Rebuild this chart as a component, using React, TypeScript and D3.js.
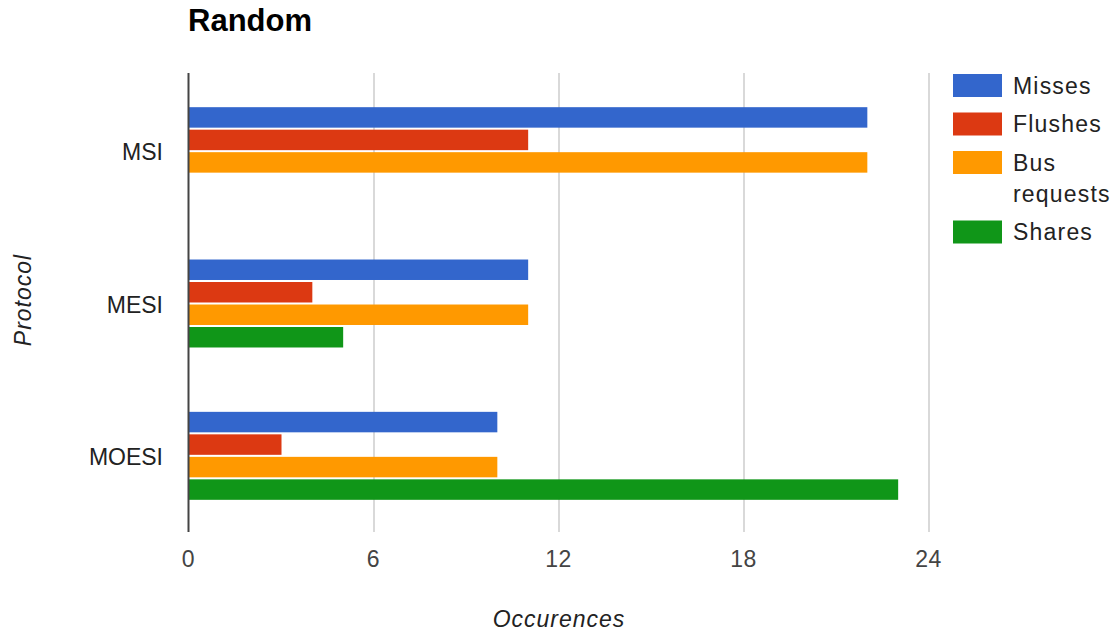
import React from "react";
import * as d3 from "d3";

const protocols = ["MSI", "MESI", "MOESI"];
const seriesNames = ["Misses", "Flushes", "Bus requests", "Shares"];
const seriesColors = ["#3366cc", "#dc3912", "#ff9900", "#109618"];
const misses = [22, 11, 10];
const flushes = [11, 4, 3];
const busRequests = [22, 11, 10];
const shares = [0, 5, 23];
const xTicks = [0, 6, 12, 18, 24];

const seriesValues = [misses, flushes, busRequests, shares];

const W = 1113;
const H = 633;
const plot = { left: 189, right: 929, top: 74, bottom: 532 };
const FONT = "Arial, 'Liberation Sans', sans-serif";

export default function App() {
  const x = d3.scaleLinear().domain([0, 24]).range([plot.left, plot.right]);
  const y = d3.scaleBand<string>().domain(protocols).range([plot.top + 1, plot.bottom]).padding(0);
  const bw = y.bandwidth();
  const groupH = 90;
  const inner = d3
    .scaleBand<string>()
    .domain(seriesNames)
    .range([(bw - groupH) / 2, (bw + groupH) / 2])
    .paddingInner(0.09)
    .paddingOuter(0.045);

  // legend rows: "Bus requests" wraps onto two lines
  const legendLines = [["Misses"], ["Flushes"], ["Bus", "requests"], ["Shares"]];
  let ly = 74;
  const legendRows = legendLines.map((lines, i) => {
    const row = { lines, top: ly, color: seriesColors[i] };
    ly += 38.5 + (lines.length - 1) * 31;
    return row;
  });

  return (
    <svg
      width={W}
      height={H}
      style={{ position: "absolute", left: 0, top: 0, background: "#fff" }}
      fontFamily={FONT}
    >
      <rect width={W} height={H} fill="#fff" />
      <text x={188} y={31} fontSize={31} fontWeight="bold" fill="#000">
        Random
      </text>

      {/* vertical gridlines */}
      {xTicks.slice(1).map((t) => (
        <line
          key={t}
          x1={x(t)}
          x2={x(t)}
          y1={73}
          y2={plot.bottom}
          stroke="#cccccc"
          strokeWidth={1.5}
        />
      ))}

      {/* bars */}
      {protocols.map((p, ci) =>
        seriesNames.map((s, si) => {
          const v = seriesValues[si][ci];
          if (!v) return null;
          return (
            <rect
              key={p + s}
              x={x(0)}
              y={(y(p) as number) + (inner(s) as number)}
              width={x(v) - x(0)}
              height={inner.bandwidth()}
              fill={seriesColors[si]}
            />
          );
        })
      )}

      {/* baseline axis */}
      <line x1={188.5} x2={188.5} y1={73} y2={plot.bottom} stroke="#444" strokeWidth={2} />

      {/* x tick labels */}
      {xTicks.map((t) => (
        <text key={t} x={x(t) - 0.5} y={567} fontSize={23} fill="#444" textAnchor="middle" letterSpacing={0.5}>
          {t}
        </text>
      ))}

      {/* category labels */}
      {protocols.map((p) => (
        <text
          key={p}
          x={163}
          y={(y(p) as number) + bw / 2 + 9}
          fontSize={23}
          fill="#222"
          textAnchor="end"
        >
          {p}
        </text>
      ))}

      {/* axis titles */}
      <text
        x={(plot.left + plot.right) / 2}
        y={627}
        fontSize={23}
        fontStyle="italic"
        fill="#222"
        textAnchor="middle"
        letterSpacing={1}
      >
        Occurences
      </text>
      <text
        transform="translate(31,300) rotate(-90)"
        fontSize={23}
        fontStyle="italic"
        fill="#222"
        textAnchor="middle"
        letterSpacing={1}
      >
        Protocol
      </text>

      {/* legend */}
      {legendRows.map((r, i) => (
        <g key={i}>
          <rect x={953} y={r.top} width={49} height={23} fill={r.color} />
          {r.lines.map((ln, k) => (
            <text
              key={k}
              x={1013}
              y={r.top + 19.5 + k * 31}
              fontSize={23}
              fill="#222"
              letterSpacing={1.2}
            >
              {ln}
            </text>
          ))}
        </g>
      ))}
    </svg>
  );
}
